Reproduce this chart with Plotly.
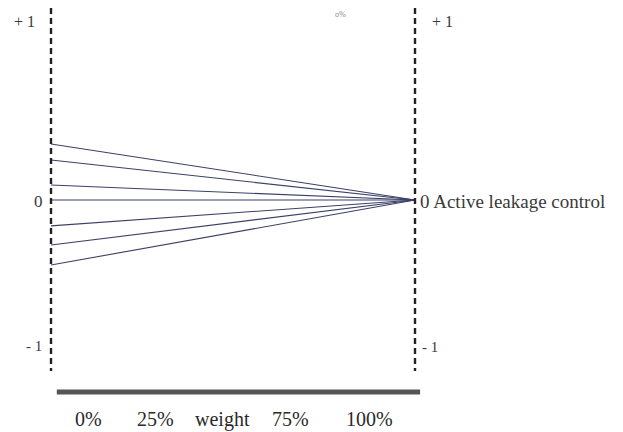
import plotly.graph_objects as go

# ---- data ----
start_values = [0.311, 0.222, 0.083, 0.0, -0.144, -0.25, -0.361]   # left-side values of the converging lines
end_value = 0.0                                                   # all lines meet at "0 Active leakage control"
weight_labels = ["0%", "25%", "weight", "75%", "100%"]
weight_label_x = [0.102, 0.286, 0.470, 0.659, 0.876]
left_labels = ["+ 1", "0", "- 1"]
left_label_x = [-0.0385, -0.0165, -0.019]
left_label_y = [0.989, -0.011, -0.811]
right_labels = ["+ 1", "0 Active leakage control", "- 1"]
right_label_x = [1.041, 1.008, 1.014]
right_label_y = [0.989, -0.011, -0.817]

# ---- figure geometry (page body adds an 8px offset) ----
OFF = 8
W, H = 623 - OFF, 432 - OFF
x0_px, x1_px = 51 - OFF, 415 - OFF
y0_px, unit_px = 200 - OFF, 180
xr = [-x0_px / (x1_px - x0_px), (W - x0_px) / (x1_px - x0_px)]
yr = [-(H - y0_px) / unit_px, y0_px / unit_px]

LINE_COLOR = "#3b4166"
SERIF = "Liberation Serif, Times New Roman, serif"

fig = go.Figure()

for v in start_values:
    fig.add_trace(go.Scatter(x=[0, 1], y=[v, end_value], mode="lines",
                             line=dict(color=LINE_COLOR, width=1.1),
                             hoverinfo="skip", showlegend=False))

# dashed vertical guide lines
for xv in [0, 1]:
    fig.add_trace(go.Scatter(x=[xv, xv], y=[yr[1], -0.95], mode="lines",
                             line=dict(color="#222222", width=2.4, dash="6px,4px"),
                             hoverinfo="skip", showlegend=False))

# thick grey weight bar
fig.add_trace(go.Scatter(x=[0.016, 1.014], y=[-1.067, -1.067], mode="lines",
                         line=dict(color="#555555", width=5),
                         hoverinfo="skip", showlegend=False))

ann = []
for txt, xv, yv, s in zip(left_labels, left_label_x, left_label_y, [16, 17, 15]):
    ann.append(dict(x=xv, y=yv, text=txt, showarrow=False, xanchor="right",
                    font=dict(family=SERIF, size=s, color="#3a3a3a")))
for txt, xv, yv, s in zip(right_labels, right_label_x, right_label_y, [16, 19, 15]):
    ann.append(dict(x=xv, y=yv, text=txt, showarrow=False, xanchor="left",
                    font=dict(family=SERIF, size=s, color="#3a3a3a")))
for txt, xv in zip(weight_labels, weight_label_x):
    ann.append(dict(x=xv, y=-1.217, text=txt, showarrow=False, xanchor="center",
                    font=dict(family=SERIF, size=20, color="#2a2a2a")))
ann.append(dict(x=0.795, y=1.03, text="σ%", showarrow=False,
                font=dict(family=SERIF, size=8, color="#888888")))

fig.update_layout(
    width=W, height=H,
    margin=dict(l=0, r=0, t=0, b=0),
    paper_bgcolor="white", plot_bgcolor="white",
    xaxis=dict(range=xr, visible=False, fixedrange=True),
    yaxis=dict(range=yr, visible=False, fixedrange=True),
    annotations=ann,
    showlegend=False,
)

fig.write_html("out.html")
